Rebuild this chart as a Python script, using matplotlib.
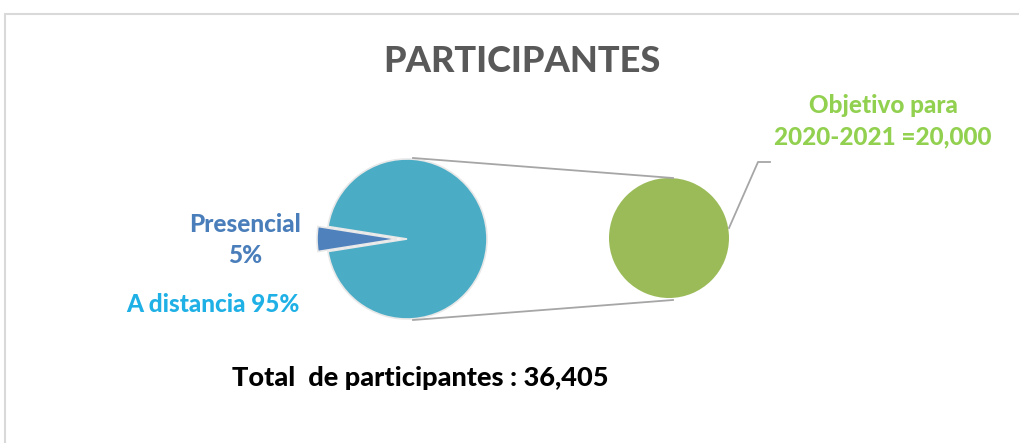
import matplotlib
matplotlib.use("Agg")
import matplotlib.pyplot as plt
from matplotlib.patches import Rectangle
from matplotlib.lines import Line2D

# Data
main_labels = ["Presencial", "A distancia"]
main_shares = [5, 95]
main_colors = ["#4F81BD", "#4BACC6"]
goal_label = "Objetivo para\n2020-2021 =20,000"
goal_values = [20000]
goal_color = "#9BBB59"
total_participants = 36405
title = "PARTICIPANTES"

W, H = 1019, 443
fig = plt.figure(figsize=(W / 100, H / 100), dpi=100)
ax = fig.add_axes([0, 0, 1, 1])

def Y(y):
    return H - y

FONT = ["Lato", "DejaVu Sans"]

# Main pie
main_center = (407, Y(239))
main_r = 80
ax.pie(main_shares, colors=main_colors, startangle=171, counterclock=True,
       explode=[10, 0], radius=main_r, center=main_center,
       wedgeprops=dict(edgecolor="#e8e8e8", linewidth=1.2))

# Second pie
goal_center = (669, Y(238))
goal_r = 60
ax.pie(goal_values, colors=[goal_color], radius=goal_r, center=goal_center,
       wedgeprops=dict(edgecolor="none"))

# Connector lines
ax.add_line(Line2D([413, 673], [Y(158), Y(178)], color="#a6a6a6", lw=1.3))
ax.add_line(Line2D([413, 673], [Y(320), Y(300)], color="#a6a6a6", lw=1.3))
# Leader line for goal label
ax.add_line(Line2D([729, 758, 770], [Y(228), Y(162), Y(162)], color="#a6a6a6", lw=1.3))

ax.set_xlim(0, W)
ax.set_ylim(0, H)
ax.set_aspect("equal")
ax.axis("off")

# Texts
ax.text(522, Y(61), title, ha="center", va="center", fontsize=26,
        fontweight=900, color="#595959", family=FONT)
ax.text(245, Y(240), f"{main_labels[0]}\n{main_shares[0]}%", ha="center", va="center",
        fontsize=17.5, fontweight=900, color="#4A7EBB", family=FONT, linespacing=1.45)
ax.text(213, Y(305), f"{main_labels[1]} {main_shares[1]}%", ha="center", va="center",
        fontsize=17.5, fontweight=900, color="#1FB0E6", family=FONT)
ax.text(883, Y(121), goal_label, ha="center", va="center",
        fontsize=17.5, fontweight=900, color="#92D050", family=FONT, linespacing=1.45)
ax.text(420, Y(378), f"Total  de participantes : {total_participants:,}", ha="center",
        va="center", fontsize=19.5, fontweight=900, color="#000000", family=FONT)

# Frame
fig.patches.append(Rectangle((5 / W, -0.1), 1.2, (H - 14) / H + 0.1,
                             transform=fig.transFigure, fill=False,
                             edgecolor="#d9d9d9", linewidth=1.5))

fig.savefig("out.png", dpi=100)
